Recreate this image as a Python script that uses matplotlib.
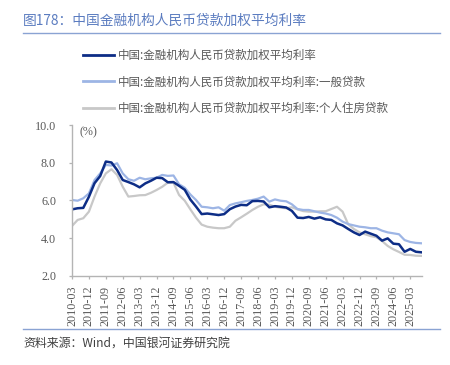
import numpy as np
import matplotlib
matplotlib.use("Agg")
import matplotlib.pyplot as plt
from matplotlib.lines import Line2D

plt.rcParams["font.family"] = ["Noto Sans CJK SC", "DejaVu Sans"]

# ── data: quarterly, 2010-03 .. 2025-09 (%) ──────────────────────────────────
rate_total = [
    5.52, 5.58, 5.60, 6.19, 6.91, 7.29, 8.06, 8.01, 7.61, 7.08, 6.97, 6.85, 6.69, 6.90, 7.04, 7.20,
    7.18, 6.96, 6.97, 6.77, 6.56, 6.04, 5.67, 5.27, 5.30, 5.26, 5.22, 5.27, 5.53, 5.67, 5.76,
    5.74, 5.96, 5.97, 5.94, 5.63, 5.69, 5.66, 5.62, 5.44, 5.08, 5.06, 5.12, 5.03, 5.10, 4.99,
    4.96, 4.78, 4.67, 4.48, 4.30, 4.16, 4.34, 4.23, 4.12, 3.86, 3.98, 3.70, 3.67, 3.27, 3.42, 3.27, 3.24,
]
rate_general = [
    6.02, 5.98, 6.11, 6.37, 7.08, 7.43, 7.88, 7.85, 7.97, 7.43, 7.12, 7.04, 7.20, 7.12, 7.17, 7.20,
    7.35, 7.30, 7.32, 6.85, 6.67, 6.31, 6.02, 5.66, 5.63, 5.58, 5.63, 5.45, 5.75, 5.84, 5.90,
    5.97, 6.02, 6.09, 6.20, 5.93, 6.05, 5.98, 5.95, 5.79, 5.54, 5.49, 5.49, 5.42, 5.35, 5.30,
    5.22, 5.08, 4.87, 4.74, 4.67, 4.60, 4.57, 4.52, 4.52, 4.39, 4.30, 4.25, 4.20, 3.89, 3.79, 3.74, 3.72,
]
rate_mortgage = [
    4.64, 4.96, 5.05, 5.40, 6.20, 6.90, 7.43, 7.65, 7.35, 6.72, 6.20, 6.23, 6.27, 6.28, 6.40, 6.55,
    6.72, 6.94, 6.94, 6.28, 5.98, 5.52, 5.08, 4.71, 4.60, 4.55, 4.52, 4.52, 4.60, 4.92, 5.10,
    5.29, 5.49, 5.66, 5.79, 5.77, 5.66, 5.61, 5.58, 5.63, 5.52, 5.43, 5.40, 5.40, 5.42, 5.42,
    5.54, 5.66, 5.40, 4.73, 4.48, 4.30, 4.20, 4.10, 4.04, 3.84, 3.58, 3.40, 3.26, 3.11, 3.10, 3.06, 3.05,
]
tick_labels = [
    "2010-03", "2010-12", "2011-09", "2012-06", "2013-03", "2013-12", "2014-09",
    "2015-06", "2016-03", "2016-12", "2017-09", "2018-06", "2019-03", "2019-12",
    "2020-09", "2021-06", "2022-03", "2022-12", "2023-09", "2024-06", "2025-03",
]
series_names = [
    "中国:金融机构人民币贷款加权平均利率",
    "中国:金融机构人民币贷款加权平均利率:一般贷款",
    "中国:金融机构人民币贷款加权平均利率:个人住房贷款",
]

C_TOTAL = "#0d2d86"
C_GENERAL = "#9db5e5"
C_MORTGAGE = "#c8c8c8"
C_TEXT = "#595959"
C_AXIS = "#b4b4b4"
C_TITLE = "#5b7cc0"
C_RULE = "#8aa3d3"
SERIF = "Liberation Serif"

# ── figure ────────────────────────────────────────────────────────────────────
fig = plt.figure(figsize=(4.5, 3.65), dpi=100)
ax = fig.add_axes([0.16, 0.2447, 0.7767, 0.4128])

x = np.arange(len(rate_total))
ax.plot(x, rate_mortgage, color=C_MORTGAGE, lw=1.6, solid_joinstyle="round")
ax.plot(x, rate_general, color=C_GENERAL, lw=1.6, solid_joinstyle="round")
ax.plot(x, rate_total, color=C_TOTAL, lw=1.8, solid_joinstyle="round")

ax.set_xlim(0, len(rate_total) - 1)
ax.set_ylim(2, 10)
ax.set_yticks([2, 4, 6, 8, 10])
ax.set_yticklabels([f"{v:.1f}" for v in [2, 4, 6, 8, 10]])
ax.set_xticks(x[::3][:len(tick_labels)])
ax.set_xticklabels(tick_labels, rotation=90)

for s in ("top", "right"):
    ax.spines[s].set_visible(False)
for s in ("left", "bottom"):
    ax.spines[s].set_color(C_AXIS)
    ax.spines[s].set_linewidth(1.0)

ax.tick_params(axis="both", colors=C_AXIS, length=2.5, width=0.9, direction="out")
ax.tick_params(axis="y", pad=9)
ax.tick_params(axis="x", pad=4.5)
for lab in ax.get_xticklabels() + ax.get_yticklabels():
    lab.set_color(C_TEXT)
    lab.set_fontfamily(SERIF)
    lab.set_fontsize(8.7)

ax.text(0.021, 0.95, "(%)", transform=ax.transAxes, fontsize=8.7, color=C_TEXT,
        family=SERIF, va="center", ha="left")

# ── legend ────────────────────────────────────────────────────────────────────
handles = [Line2D([], [], color=c, lw=2.0) for c in (C_TOTAL, C_GENERAL, C_MORTGAGE)]
leg = fig.legend(handles, series_names, loc="upper left", bbox_to_anchor=(0.185, 0.866),
                 frameon=False, fontsize=8.3, handlelength=2.7, handletextpad=0.32,
                 labelspacing=1.17, borderpad=0, borderaxespad=0)
for t in leg.get_texts():
    t.set_color(C_TEXT)

# ── title, rules, source ──────────────────────────────────────────────────────
fig.text(23 / 450, 1 - 20.7 / 365, "图178：中国金融机构人民币贷款加权平均利率",
         fontsize=9.9, color=C_TITLE, va="center", ha="left")
fig.add_artist(Line2D([23 / 450, 440 / 450], [1 - 32.5 / 365] * 2, color=C_RULE, lw=1.0))
fig.add_artist(Line2D([23 / 450, 440 / 450], [1 - 329.3 / 365] * 2, color=C_RULE, lw=1.0))
fig.text(23 / 450, 1 - 343.5 / 365, "资料来源：Wind，中国银河证券研究院",
         fontsize=8.6, color="#404040", va="center", ha="left")

fig.savefig("out.png", dpi=100)
